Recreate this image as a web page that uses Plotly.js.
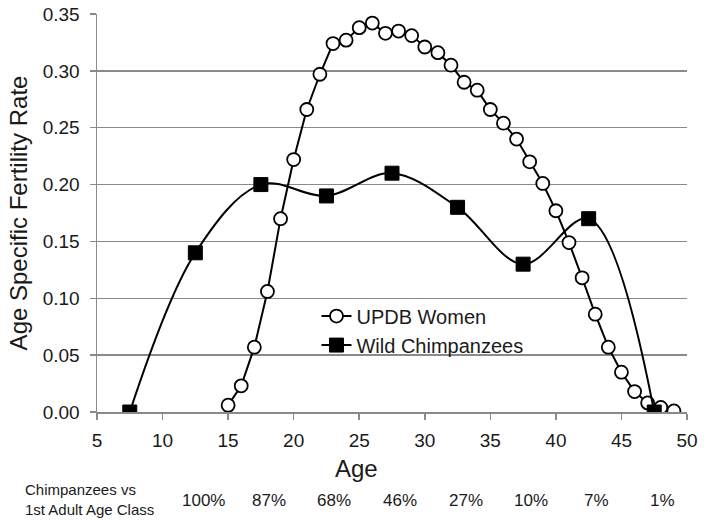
<!DOCTYPE html>
<html>
<head>
<meta charset="utf-8">
<script src="https://cdn.plot.ly/plotly-3.0.1.min.js"></script>
<style>
  html, body { margin: 0; padding: 0; background: #ffffff; }
  #plot { width: 704px; height: 523px; }
</style>
</head>
<body>
<div id="plot"></div>
<script>
"use strict";

// UPDB women, single-year ages
const updbAge = [15, 16, 17, 18, 19, 20, 21, 22, 23, 24, 25, 26, 27, 28, 29, 30, 31, 32,
                 33, 34, 35, 36, 37, 38, 39, 40, 41, 42, 43, 44, 45, 46, 47, 48, 49];
const updbRate = [0.006, 0.023, 0.057, 0.106, 0.170, 0.222, 0.266, 0.297, 0.324, 0.327,
                  0.338, 0.342, 0.333, 0.335, 0.331, 0.321, 0.316, 0.305, 0.290, 0.283,
                  0.266, 0.254, 0.240, 0.220, 0.201, 0.177, 0.149, 0.118, 0.086, 0.057,
                  0.035, 0.018, 0.008, 0.004, 0.001];

// Wild chimpanzees, 5-year age class midpoints
const chimpAge = [7.5, 12.5, 17.5, 22.5, 27.5, 32.5, 37.5, 42.5, 47.5];
const chimpRate = [0.00, 0.14, 0.20, 0.19, 0.21, 0.18, 0.13, 0.17, 0.00];

// survivorship vs 1st adult age class, one per class from 12.5 on
const survivalLabels = ["100%", "87%", "68%", "46%", "27%", "10%", "7%", "1%"];

const FONT = "Liberation Sans, Arial, Helvetica, sans-serif";
const INK = "#1a1a1a";
const GRID = "#8a8a8a";

const traces = [
    {
        x: updbAge, y: updbRate,
        type: "scatter", mode: "lines+markers",
        name: "UPDB Women",
        line: { color: "#000000", width: 2 },
        marker: { symbol: "circle", size: 13, color: "#ffffff",
                  line: { color: "#000000", width: 1.8 } },
    },
    {
        x: chimpAge, y: chimpRate,
        type: "scatter", mode: "lines+markers",
        name: "Wild Chimpanzees",
        line: { color: "#000000", width: 2, shape: "spline", smoothing: 1 },
        marker: { symbol: "square", size: 14, color: "#000000",
                  line: { color: "#000000", width: 1 } },
    },
];

const annotations = survivalLabels.map((t, i) => ({
    text: t, x: chimpAge[i + 1], xref: "x", xshift: 8,
    y: -0.223, yref: "paper", yanchor: "middle", xanchor: "center",
    showarrow: false, font: { family: FONT, size: 17, color: INK },
}));
annotations.push({
    text: "Chimpanzees vs<br>1st Adult Age Class", align: "left",
    x: (23 - 97) / 590, xref: "paper", xanchor: "left",
    y: -0.22, yref: "paper", yanchor: "middle",
    showarrow: false, font: { family: FONT, size: 15, color: INK },
});
annotations.push({
    text: "Age", x: (356 - 97) / 590, xref: "paper", xanchor: "center",
    y: -0.141, yref: "paper", yanchor: "middle",
    showarrow: false, font: { family: FONT, size: 24, color: INK },
});

const layout = {
    width: 704, height: 523,
    margin: { l: 97, r: 17, t: 13.5, b: 111 },
    paper_bgcolor: "#ffffff", plot_bgcolor: "#ffffff",
    font: { family: FONT, color: INK, size: 19 },
    showlegend: true,
    legend: {
        x: 0.372, xanchor: "left", y: 0.29, yanchor: "top",
        bgcolor: "rgba(0,0,0,0)", font: { family: FONT, size: 20, color: INK },
        tracegroupgap: 0,
    },
    xaxis: {
        range: [5, 50], dtick: 5, tick0: 5,
        showgrid: false, zeroline: false,
        showline: true, linecolor: GRID, linewidth: 1.5,
        ticks: "outside", ticklen: 6, tickcolor: GRID, tickwidth: 1.5,
        ticklabelstandoff: 5,
        tickfont: { family: FONT, size: 19, color: INK },
    },
    yaxis: {
        range: [0, 0.35], dtick: 0.05, tick0: 0, tickformat: ".2f",
        showgrid: true, gridcolor: GRID, gridwidth: 1.5, zeroline: false,
        showline: true, linecolor: GRID, linewidth: 1.5,
        ticks: "outside", ticklen: 6, tickcolor: GRID, tickwidth: 1.5,
        ticklabelstandoff: 6,
        tickfont: { family: FONT, size: 19, color: INK },
        title: { text: "Age Specific Fertility Rate", standoff: 8,
                 font: { family: FONT, size: 24, color: INK } },
    },
    annotations: annotations,
};

Plotly.newPlot("plot", traces, layout, { displayModeBar: false, staticPlot: true });
</script>
</body>
</html>
